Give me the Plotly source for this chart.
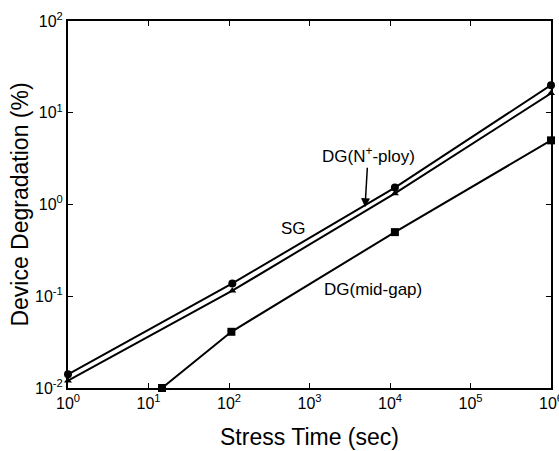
import plotly.graph_objects as go

# Data
time_sg = [1, 110, 11500, 1e6]
deg_sg = [0.0141, 0.138, 1.53, 20.0]

time_dgn = [1, 110, 11500, 1e6]
deg_dgn = [0.012, 0.115, 1.32, 16.3]

time_mid = [14.7, 107, 11500, 1e6]
deg_mid = [0.010, 0.041, 0.50, 5.0]

x_ticks = [1, 10, 100, 1e3, 1e4, 1e5, 1e6]
x_ticktext = ["10<sup>%d</sup>" % i for i in range(7)]
y_ticks = [1e-2, 1e-1, 1, 10, 100]
y_ticktext = ["10<sup>-2</sup>", "10<sup>-1</sup>", "10<sup>0</sup>", "10<sup>1</sup>", "10<sup>2</sup>"]

FONT = "Liberation Sans, Arial, Helvetica, sans-serif"

fig = go.Figure()
fig.add_trace(go.Scatter(x=time_sg, y=deg_sg, mode="lines+markers", name="SG",
                         line=dict(color="black", width=2),
                         marker=dict(symbol="circle", size=8, color="black"),
                         cliponaxis=False))
fig.add_trace(go.Scatter(x=time_dgn, y=deg_dgn, mode="lines+markers", name="DG(N+-ploy)",
                         line=dict(color="black", width=2),
                         marker=dict(symbol="triangle-up", size=7, color="black"),
                         cliponaxis=False))
fig.add_trace(go.Scatter(x=time_mid, y=deg_mid, mode="lines+markers", name="DG(mid-gap)",
                         line=dict(color="black", width=2),
                         marker=dict(symbol="square", size=8, color="black"),
                         cliponaxis=False))

fig.add_annotation(x=2.80, y=-0.26, xref="x", yref="y", text="SG", showarrow=False,
                   font=dict(size=17, color="black", family=FONT))
fig.add_annotation(x=3.79, y=-0.93, xref="x", yref="y", text="DG(mid-gap)", showarrow=False,
                   font=dict(size=17, color="black", family=FONT))
fig.add_annotation(x=3.69, y=-0.03, xref="x", yref="y", text="DG(N<sup>+</sup>-ploy)",
                   showarrow=True, ax=3, ay=-52, axref="pixel", ayref="pixel",
                   arrowhead=2, arrowsize=1.2, arrowwidth=1.5, arrowcolor="black",
                   standoff=0,
                   font=dict(size=17, color="black", family=FONT))

axis_common = dict(type="log", showline=True, linecolor="black", linewidth=2,
                   mirror="ticks", ticks="inside", ticklen=5, tickcolor="black",
                   showgrid=False, zeroline=False, ticklabeloverflow="allow",
                   automargin=False,
                   tickfont=dict(size=16, color="black", family=FONT))

fig.update_xaxes(range=[0, 6], tickvals=x_ticks, ticktext=x_ticktext,
                 title=dict(text="Stress Time (sec)", font=dict(size=23, color="black", family=FONT),
                            standoff=18),
                 **axis_common)
fig.update_yaxes(range=[-2, 2], tickvals=y_ticks, ticktext=y_ticktext,
                 title=dict(text="Device Degradation (%)", font=dict(size=23, color="black", family=FONT),
                            standoff=0),
                 **axis_common)

fig.update_layout(width=559, height=451, showlegend=False,
                  margin=dict(l=68, r=8, t=21, b=63),
                  plot_bgcolor="white", paper_bgcolor="white",
                  font=dict(family=FONT, color="black"))

fig.write_html("out.html", config={"displayModeBar": False},
               post_script="document.body.style.margin='0';document.body.style.overflow='hidden';")
